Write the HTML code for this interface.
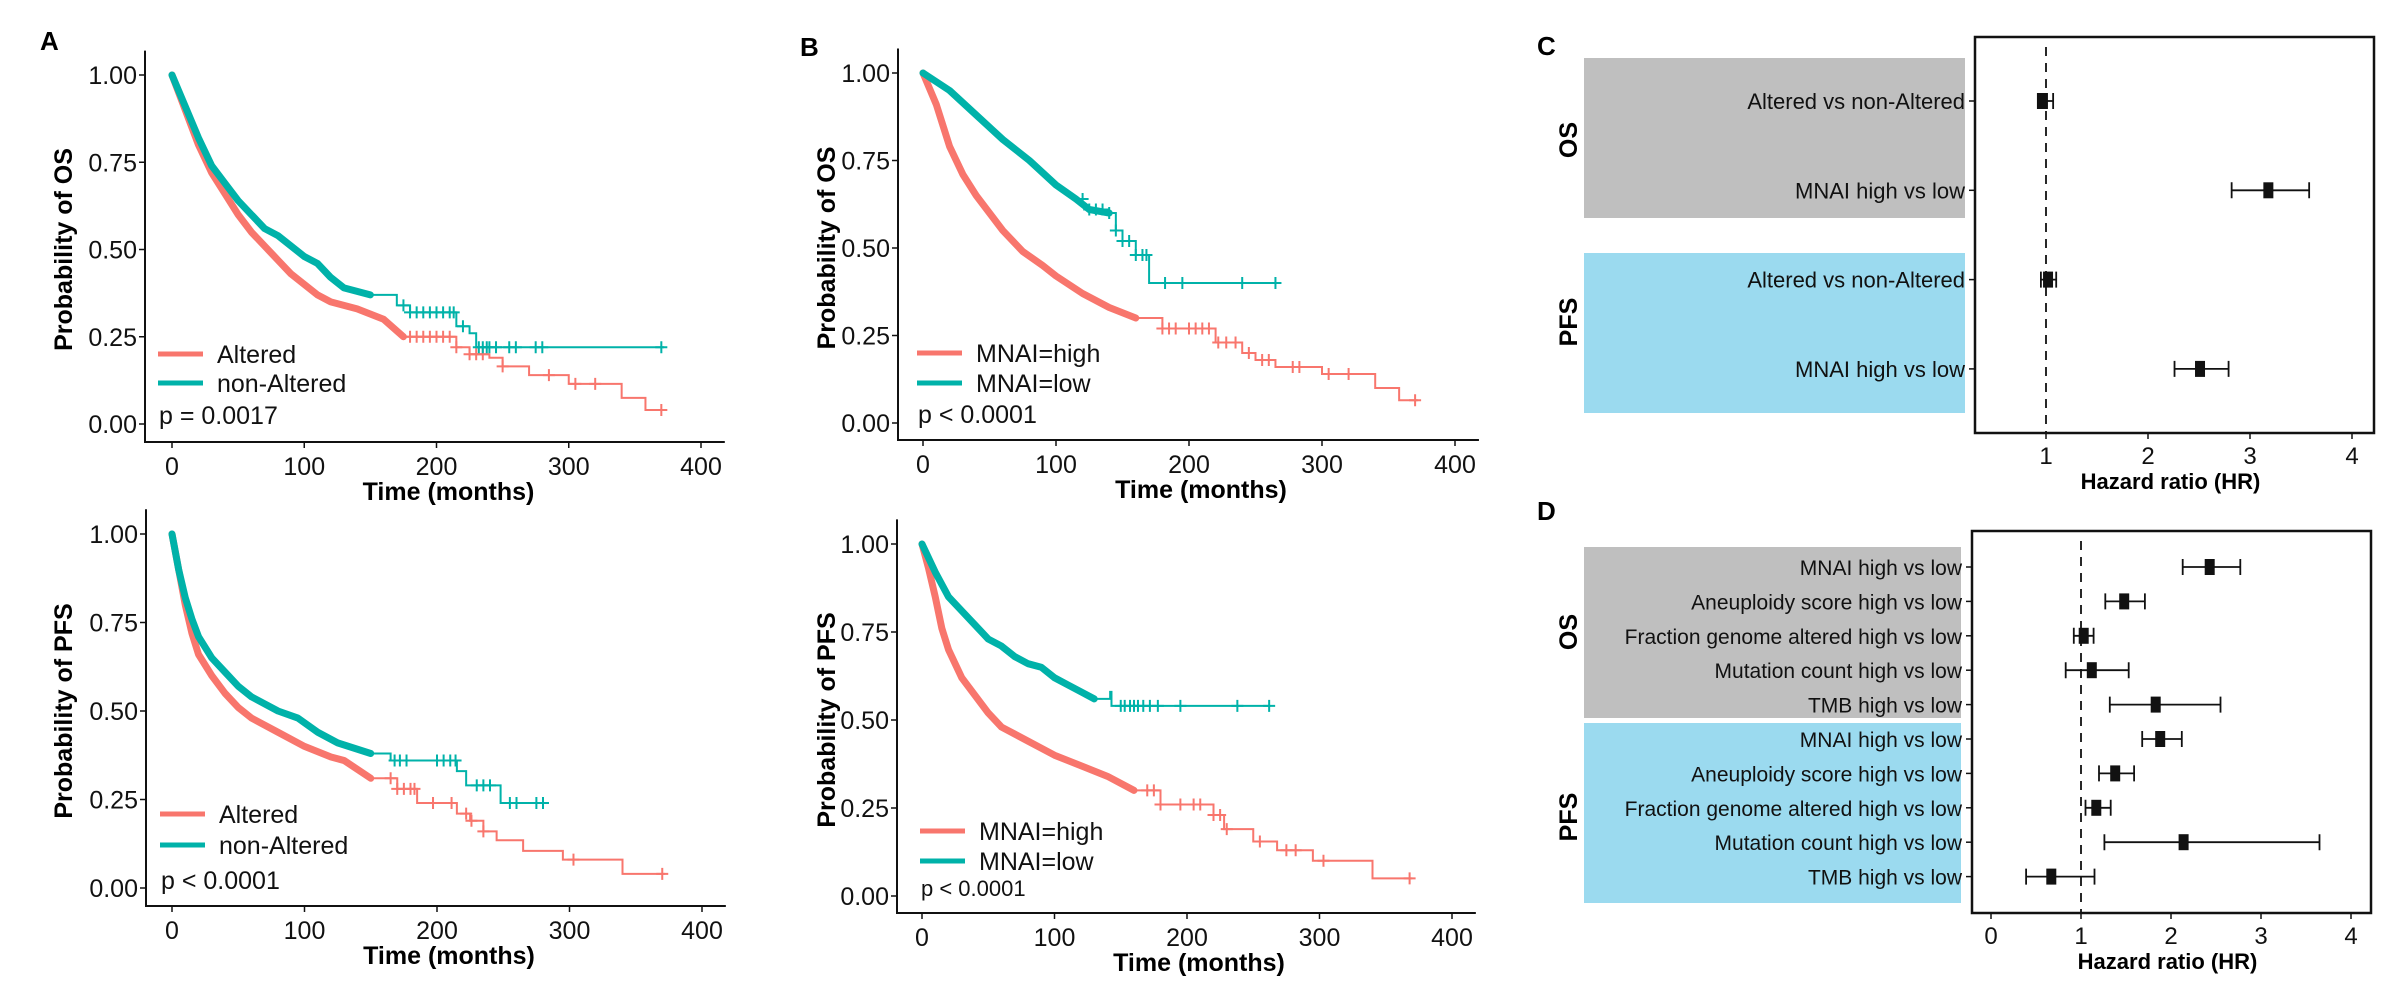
<!DOCTYPE html>
<html><head><meta charset="utf-8"><style>
html,body{margin:0;padding:0;background:#fff;}
svg{display:block;font-family:"Liberation Sans",Arial,sans-serif;}
</style></head><body>
<svg id="fig" width="2406" height="1002" viewBox="0 0 2406 1002" xmlns="http://www.w3.org/2000/svg"></svg>
<script>
// ---- KM data (time in months, survival probability) ----
const aOsAltT=[0,10,20,30,40,50,60,70,80,90,100,110,120,140,160,175,200,215,225,240,250,270,300,340,358,372];
const aOsAltS=[1,0.9,0.8,0.72,0.66,0.6,0.55,0.51,0.47,0.43,0.4,0.37,0.35,0.33,0.3,0.25,0.25,0.22,0.2,0.19,0.165,0.14,0.115,0.075,0.04,0.04];
const aOsAltC=[180,185,190,195,200,205,210,215,225,230,235,250,285,305,320,370];
const aOsNonT=[0,10,20,30,40,50,60,70,80,90,100,110,120,130,150,170,180,212,215,225,230,372];
const aOsNonS=[1,0.91,0.82,0.74,0.69,0.64,0.6,0.56,0.54,0.51,0.48,0.46,0.42,0.39,0.37,0.34,0.32,0.32,0.28,0.26,0.22,0.22];
const aOsNonC=[175,180,185,190,195,200,205,210,213,220,232,235,238,240,245,255,260,275,280,370];

const bOsHighT=[0,10,20,30,40,50,60,75,90,100,120,140,160,180,210,220,240,250,265,300,340,358,372];
const bOsHighS=[1,0.91,0.79,0.71,0.65,0.6,0.55,0.49,0.45,0.42,0.37,0.33,0.3,0.27,0.27,0.23,0.2,0.18,0.16,0.14,0.1,0.065,0.065];
const bOsHighC=[180,185,190,200,205,210,215,222,228,235,245,255,260,278,283,305,320,370];
const bOsLowT=[0,20,40,60,80,100,115,125,140,145,150,160,170,265];
const bOsLowS=[1,0.95,0.88,0.81,0.75,0.68,0.64,0.61,0.6,0.55,0.52,0.48,0.4,0.4];
const bOsLowC=[120,125,130,135,140,145,150,155,160,165,168,182,195,240,265];

const aPfsAltT=[0,5,10,15,20,30,40,50,60,80,100,120,130,150,170,185,210,215,225,235,245,265,295,340,372];
const aPfsAltS=[1,0.9,0.8,0.72,0.66,0.6,0.55,0.51,0.48,0.44,0.4,0.37,0.36,0.31,0.28,0.24,0.24,0.21,0.19,0.16,0.135,0.105,0.08,0.04,0.04];
const aPfsAltC=[165,170,175,180,183,197,211,222,226,235,303,370];
const aPfsNonT=[0,5,10,15,20,30,40,50,60,80,95,110,125,150,165,210,215,222,245,248,283];
const aPfsNonS=[1,0.9,0.82,0.76,0.71,0.65,0.61,0.57,0.54,0.5,0.48,0.44,0.41,0.38,0.36,0.36,0.33,0.29,0.29,0.24,0.24];
const aPfsNonC=[168,172,177,200,205,210,214,230,235,240,255,260,275,280];

const bPfsHighT=[0,5,10,15,20,30,40,50,60,80,100,120,140,160,180,210,220,228,248,250,268,295,340,370];
const bPfsHighS=[1,0.93,0.85,0.76,0.7,0.62,0.57,0.52,0.48,0.44,0.4,0.37,0.34,0.3,0.26,0.26,0.23,0.19,0.19,0.155,0.13,0.1,0.05,0.05];
const bPfsHighC=[170,175,180,195,205,210,220,225,230,255,275,282,303,368];
const bPfsLowT=[0,10,20,30,40,50,60,70,80,90,100,110,120,130,142,143,263];
const bPfsLowS=[1,0.92,0.85,0.81,0.77,0.73,0.71,0.68,0.66,0.65,0.62,0.6,0.58,0.56,0.58,0.54,0.54];
const bPfsLowC=[150,153,157,160,163,167,172,178,195,238,262];

const timeTicks=[0,100,200,300,400];
const probTicks=[0,0.25,0.5,0.75,1];
const probTickLabels=["0.00","0.25","0.50","0.75","1.00"];

// ---- Forest data ----
const cLabels=["Altered vs non-Altered","MNAI high vs low","Altered vs non-Altered","MNAI high vs low"];
const cHR=[0.97,3.18,1.02,2.51];
const cLow=[0.92,2.82,0.95,2.26];
const cHigh=[1.07,3.58,1.10,2.79];
const cTicks=[1,2,3,4];

const dLabels=["MNAI high vs low","Aneuploidy score high vs low","Fraction genome altered high vs low","Mutation count high vs low","TMB high vs low","MNAI high vs low","Aneuploidy score high vs low","Fraction genome altered high vs low","Mutation count high vs low","TMB high vs low"];
const dHR=[2.43,1.48,1.03,1.12,1.83,1.88,1.38,1.17,2.14,0.67];
const dLow=[2.13,1.27,0.92,0.83,1.32,1.68,1.20,1.05,1.26,0.39];
const dHigh=[2.77,1.71,1.14,1.53,2.55,2.12,1.59,1.33,3.65,1.15];
const dTicks=[0,1,2,3,4];

const RED="#F8766D", TEAL="#00B2A9";
const svg=document.getElementById('fig');
const NS="http://www.w3.org/2000/svg";
function mk(tag,attrs,parent){const e=document.createElementNS(NS,tag);for(const k in attrs)e.setAttribute(k,attrs[k]);(parent||svg).appendChild(e);return e;}
function txt(s,attrs,parent){const e=mk('text',attrs,parent);e.textContent=s;return e;}

function label(s,x,y){const t=txt(s,{x:x,y:y,'font-size':26,'font-weight':'bold'});

}

function km(cfg){
  const g=mk('g',{});
  
  
  const sx=t=>cfg.x0+(cfg.x400-cfg.x0)*t/400;
  const sy=p=>cfg.y0+(cfg.y1-cfg.y0)*p;
  const ax=mk('path',{d:`M${cfg.ax} ${sy(1.07)} V${cfg.axY} H${sx(418)}`,stroke:'#111',fill:'none','stroke-width':2},g);
  
  
  timeTicks.forEach(t=>{
    mk('line',{x1:sx(t),x2:sx(t),y1:cfg.axY,y2:cfg.axY+6,stroke:'#111','stroke-width':1.5},g);
    const l=txt(String(t),{x:sx(t),y:cfg.axY+33,'font-size':25,'text-anchor':'middle',fill:'#111'},g);
    
    
  });
  probTicks.forEach((p,i)=>{
    mk('line',{x1:cfg.ax-6,x2:cfg.ax,y1:sy(p),y2:sy(p),stroke:'#111','stroke-width':1.5},g);
    const l=txt(probTickLabels[i],{x:cfg.ax-8,y:sy(p)+9,'font-size':25,'text-anchor':'end',fill:'#111'},g);
    
    
  });
  const xt=txt('Time (months)',{x:sx(200)+12,y:cfg.axY+58,'font-size':25,'font-weight':'bold','text-anchor':'middle'},g);
  
  
  const yc=(sy(0)+sy(1))/2;
  const yt=txt(cfg.ytitle,{x:0,y:0,'font-size':25,'font-weight':'bold','text-anchor':'middle',transform:`translate(${cfg.ytx},${yc}) rotate(-90)`},g);
  
  
  cfg.series.forEach(s=>{
    let d=`M${sx(s.t[0])} ${sy(s.s[0])}`;
    let dd=d;
    for(let i=1;i<s.t.length;i++){
      if(s.t[i]<=s.thick){
        d+=` L${sx(s.t[i])} ${sy(s.s[i])}`;
        dd+=` L${sx(s.t[i])} ${sy(s.s[i])}`;
      } else {
        d+=` H${sx(s.t[i])} V${sy(s.s[i])}`;
      }
    }
    const th=mk('path',{d:dd,stroke:s.color,fill:'none','stroke-width':7,'stroke-linejoin':'round','stroke-linecap':'round'},g);
    
    
    const p=mk('path',{d:d,stroke:s.color,fill:'none','stroke-width':2},g);
    
    
    s.c.forEach(ct=>{
      let v=s.s[0];
      for(let i=0;i<s.t.length;i++){if(s.t[i]<=ct)v=s.s[i];}
      const cx=sx(ct),cy=sy(v);
      const m=mk('path',{d:`M${cx-6} ${cy} H${cx+6} M${cx} ${cy-6} V${cy+6}`,stroke:s.color,'stroke-width':2},g);
      
      
    });
  });
  cfg.series.forEach((s,i)=>{
    const ly=cfg.legY+i*cfg.legDy;
    const ll=mk('line',{x1:cfg.legX,x2:cfg.legX+45,y1:ly,y2:ly,stroke:s.color,'stroke-width':5},g);
    
    
    const lt=txt(s.label,{x:cfg.legX+59,y:ly+9,'font-size':25,fill:'#111'},g);
    
    
  });
  const pv=txt(cfg.p,{x:cfg.legX+1,y:cfg.pY,'font-size':cfg.pSize,fill:'#111'},g);
  
  
}

label('A',40,50);
label('B',800,56);
label('C',1537,55);
label('D',1537,520);

km({name:'km-os-altered',ax:145,axY:442,x0:172,x400:701,y0:424,y1:75,ytitle:'Probability of OS',ytx:72,
  legX:158,legY:354,legDy:29,p:'p = 0.0017',pY:424,pSize:25,
  series:[{name:'altered',label:'Altered',color:RED,t:aOsAltT,s:aOsAltS,c:aOsAltC,thick:175},
          {name:'non-altered',label:'non-Altered',color:TEAL,t:aOsNonT,s:aOsNonS,c:aOsNonC,thick:165}]});
km({name:'km-os-mnai',ax:898,axY:440,x0:923,x400:1455,y0:423,y1:73,ytitle:'Probability of OS',ytx:835,
  legX:917,legY:353,legDy:30,p:'p < 0.0001',pY:423,pSize:25,
  series:[{name:'mnai-high',label:'MNAI=high',color:RED,t:bOsHighT,s:bOsHighS,c:bOsHighC,thick:160},
          {name:'mnai-low',label:'MNAI=low',color:TEAL,t:bOsLowT,s:bOsLowS,c:bOsLowC,thick:140}]});
km({name:'km-pfs-altered',ax:146,axY:906,x0:172,x400:702,y0:888,y1:534,ytitle:'Probability of PFS',ytx:72,
  legX:160,legY:814,legDy:31,p:'p < 0.0001',pY:889,pSize:25,
  series:[{name:'altered',label:'Altered',color:RED,t:aPfsAltT,s:aPfsAltS,c:aPfsAltC,thick:165},
          {name:'non-altered',label:'non-Altered',color:TEAL,t:aPfsNonT,s:aPfsNonS,c:aPfsNonC,thick:160}]});
km({name:'km-pfs-mnai',ax:897,axY:913,x0:922,x400:1452,y0:896,y1:544,ytitle:'Probability of PFS',ytx:835,
  legX:920,legY:831,legDy:30,p:'p < 0.0001',pY:896,pSize:22,
  series:[{name:'mnai-high',label:'MNAI=high',color:RED,t:bPfsHighT,s:bPfsHighS,c:bPfsHighC,thick:165},
          {name:'mnai-low',label:'MNAI=low',color:TEAL,t:bPfsLowT,s:bPfsLowS,c:bPfsLowC,thick:140}]});

function forest(cfg){
  const g=mk('g',{});
  
  
  const sx=v=>cfg.x1+(cfg.x2-cfg.x1)*(v-1);
  cfg.bands.forEach(b=>{
    const r=mk('rect',{x:cfg.bandX,y:b.y1,width:cfg.bandW,height:b.y2-b.y1,fill:b.color},g);
    
    
    const t=txt(b.name.toUpperCase(),{x:0,y:0,'font-size':25,'font-weight':'bold','text-anchor':'middle',transform:`translate(${cfg.bandX-7},${b.cy}) rotate(-90)`},g);
    
    
  });
  const box=mk('rect',{x:cfg.bx1,y:cfg.by1,width:cfg.bx2-cfg.bx1,height:cfg.by2-cfg.by1,fill:'none',stroke:'#111','stroke-width':2.5},g);
  
  
  const ref=mk('line',{x1:sx(1),x2:sx(1),y1:cfg.by1+10,y2:cfg.by2,stroke:'#111','stroke-width':1.8,'stroke-dasharray':'9 7'},g);
  
  
  cfg.ticks.forEach(v=>{
    mk('line',{x1:sx(v),x2:sx(v),y1:cfg.by2,y2:cfg.by2+6,stroke:'#111','stroke-width':1.5},g);
    const l=txt(String(v),{x:sx(v),y:cfg.by2+31,'font-size':24,'text-anchor':'middle',fill:'#111'},g);
    
    
  });
  const xt=txt('Hazard ratio (HR)',{x:(cfg.bx1+cfg.bx2)/2-4,y:cfg.by2+56,'font-size':22,'font-weight':'bold','text-anchor':'middle'},g);
  
  
  cfg.labels.forEach((lab,i)=>{
    const y=cfg.rowY0+i*cfg.rowDy;
    mk('line',{x1:cfg.bx1-6,x2:cfg.bx1,y1:y,y2:y,stroke:'#111','stroke-width':1.5},g);
    const t=txt(lab,{x:cfg.bx1-10,y:y+8,'font-size':cfg.fs,'text-anchor':'end',fill:'#111'},g);
    
    
    const w=mk('path',{d:`M${sx(cfg.lo[i])} ${y-8} V${y+8} M${sx(cfg.lo[i])} ${y} H${sx(cfg.hi[i])} M${sx(cfg.hi[i])} ${y-8} V${y+8}`,stroke:'#111',fill:'none','stroke-width':1.8},g);
    
    
    const p=mk('rect',{x:sx(cfg.hr[i])-5,y:y-8,width:10,height:16,fill:'#111'},g);
    
    
  });
}

forest({name:'forest-c',x1:2046,x2:2148,bx1:1975,bx2:2374,by1:37,by2:433,ticks:cTicks,
  labels:cLabels,hr:cHR,lo:cLow,hi:cHigh,rowY0:101,rowDy:89.3,fs:22,bandX:1584,bandW:381,
  bands:[{name:'os',y1:58,y2:218,cy:140,color:'#BFBFBF'},{name:'pfs',y1:253,y2:413,cy:322,color:'#9BDAEF'}]});
forest({name:'forest-d',x1:2081,x2:2171,bx1:1972,bx2:2371,by1:531,by2:913,ticks:dTicks,
  labels:dLabels,hr:dHR,lo:dLow,hi:dHigh,rowY0:567,rowDy:34.4,fs:21,bandX:1584,bandW:377,
  bands:[{name:'os',y1:547,y2:718,cy:632,color:'#BFBFBF'},{name:'pfs',y1:723,y2:903,cy:817,color:'#9BDAEF'}]});
</script>
</body></html>
